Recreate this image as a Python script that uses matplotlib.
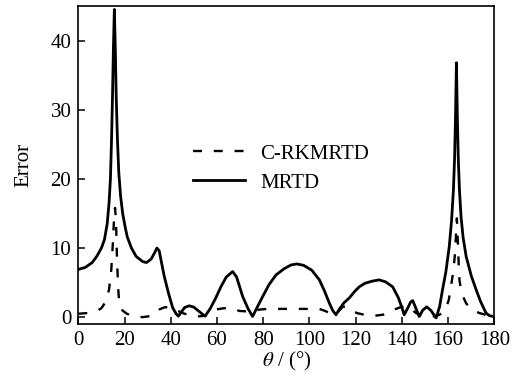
import matplotlib
matplotlib.use("Agg")
import matplotlib.pyplot as plt

# MRTD (solid)
theta_mrtd = [0, 3, 6, 8, 10, 11.3, 12.5, 13.3, 13.9, 14.4, 14.8, 15.2, 15.6, 16.0, 16.4,
              16.9, 17.5, 18.3, 19.2, 20.3, 21.2, 23, 25, 27.8, 29.5, 31.5, 33, 34, 35,
              36, 37.2, 39, 40.8, 42.3, 43.3, 44.5, 46, 48, 50, 52, 54.8, 57, 59.5, 61.7,
              64, 66.8, 68.5, 71.1, 73.5, 75.4, 77.5, 79.8, 82.5, 85.5, 89, 92, 94.5, 97.5,
              101, 104.3, 106.5, 108.6, 110.2, 111.5, 113, 115, 117.3, 119.5, 121.6, 124,
              127, 130.2, 133, 136, 138.5, 140.3, 141, 142.5, 143.8, 144.7, 145.8, 147.5,
              149, 150.7, 152.5, 154.8, 156.3, 157.6, 159, 160.5, 161.5, 162.3, 162.8,
              163.2, 163.6, 164.0, 164.4, 164.9, 165.6, 166.5, 167.8, 170, 172.1, 174,
              176.4, 178, 180]
err_mrtd = [6.9, 7.2, 7.9, 8.8, 10.0, 11.2, 13.5, 16.5, 20, 26, 32, 39, 44.5, 39, 32,
            26, 21, 17.5, 15, 13, 11.6, 10, 8.8, 8.05, 7.9, 8.4, 9.3, 10, 9.6,
            7.9, 5.9, 3.5, 1.4, 0.5, 0.15, 0.7, 1.4, 1.65, 1.45, 0.9, 0.15, 1.2, 2.8, 4.4,
            5.8, 6.6, 5.8, 3.0, 1.2, 0.1, 1.5, 3.0, 4.7, 6.1, 7.0, 7.55, 7.7, 7.5,
            6.8, 5.4, 3.8, 2.05, 0.9, 0.35, 1.2, 2.1, 2.8, 3.7, 4.4, 4.9,
            5.2, 5.4, 5.1, 4.4, 2.8, 1.1, 0.35, 1.3, 2.2, 2.4, 1.5, 0.1,
            1.0, 1.5, 1.0, -0.1, 1.5, 4, 6.5, 10.2, 14, 18.4, 23,
            29, 36.8, 29, 23, 18.4, 14.5, 11.5, 8.8, 6, 4, 2.3,
            0.6, 0.2, 0.1]

# C-RKMRTD (dashed)
theta_crk = [0, 4, 8, 10, 12, 13.3, 14.3, 15.0, 15.5, 15.9, 16.3, 16.7, 17.2, 17.7, 19,
             21, 23.5, 27.8, 32, 35, 37, 39.4, 42, 45.1, 48, 50.9, 55, 57, 59.4, 63,
             66.8, 69.7, 72.6, 75, 78.3, 82, 85.5, 95, 104.3, 107.2, 109, 110.8, 112.5,
             114.4, 115.8, 118, 120.5, 123.8, 128, 131.7, 134, 136, 139, 141.8, 144,
             146.1, 148.5, 150.5, 153.5, 156.2, 158, 159.1, 160.3, 161.2, 162.3, 163.0,
             163.5, 163.8, 164.2, 164.6, 164.9, 165.8, 167.8, 170, 173.5, 177.8, 180]
err_crk = [0.5, 0.6, 0.9, 1.3, 2.3, 4, 7, 11, 14.5, 15.8, 14, 9, 4.5, 2.1, 1.0,
           0.5, 0.2, 0.0, 0.2, 1.1, 1.4, 1.5, 1.1, 0.6, 0.3, 0.1, 0.2, 0.6, 1.1, 1.3,
           1.3, 0.9, 0.85, 0.7, 1.1, 1.2, 1.2, 1.2, 1.2, 0.85, 0.5, 0.35, 0.8,
           1.5, 1.55, 1.1, 0.6, 0.35, 0.2, 0.35, 0.6, 1.0, 1.4, 1.65, 1.2,
           0.6, 0.2, 0.1, 0.1, 0.35, 0.7, 1.3, 2.5, 4.4, 6.7, 9.3,
           12.5, 14.3, 11, 7.5, 5.4, 3.5, 2.0, 1.2, 0.6, 0.2, 0.1]

xticks = [0, 20, 40, 60, 80, 100, 120, 140, 160, 180]
yticks = [0, 10, 20, 30, 40]

plt.rcParams['font.family'] = 'Liberation Serif'
plt.rcParams['mathtext.fontset'] = 'stix'
plt.rcParams['font.size'] = 15

fig = plt.figure(figsize=(5.22, 3.76), dpi=100)
ax = fig.add_axes([0.150, 0.138, 0.797, 0.846])

ax.plot(theta_crk, err_crk, color='black', linewidth=1.7, linestyle=(0, (3.8, 5.0)),
        label='C-RKMRTD')
ax.plot(theta_mrtd, err_mrtd, color='black', linewidth=2.0, label='MRTD')

ax.set_xlim(0, 180)
ax.set_ylim(-1, 45)
ax.set_xticks(xticks)
ax.set_yticks(yticks)
ax.tick_params(direction='in', length=5, width=1.1, pad=5)
for s in ax.spines.values():
    s.set_linewidth(1.2)

ax.set_xlabel(r'$\theta$ / (°)', labelpad=0)
ax.set_ylabel('Error', labelpad=12)

ax.legend(loc='center left', bbox_to_anchor=(0.250, 0.49), frameon=False,
          borderpad=0, handlelength=2.5, handletextpad=0.75, labelspacing=0.45)

fig.savefig('out.png', dpi=100)
